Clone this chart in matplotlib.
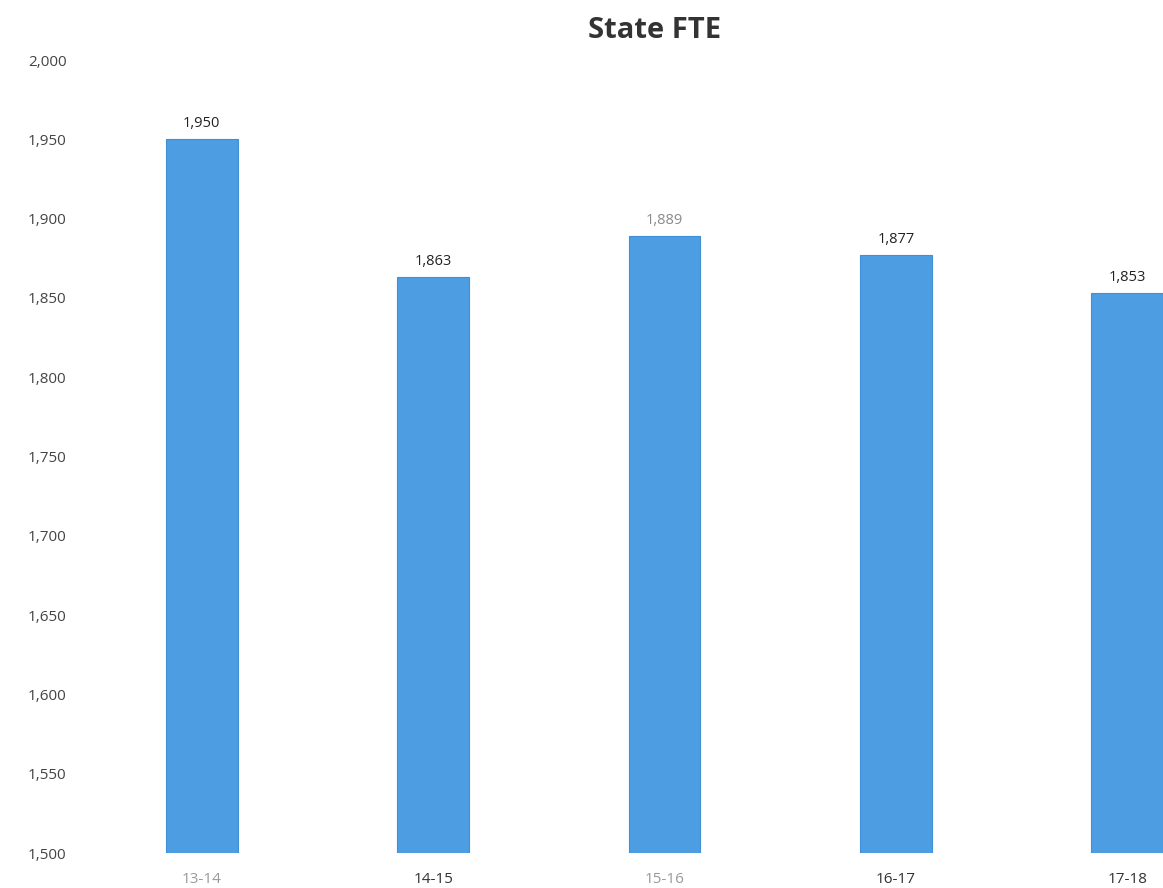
import matplotlib
matplotlib.use("Agg")
import matplotlib.pyplot as plt

categories = ["13-14", "14-15", "15-16", "16-17", "17-18"]
values = [1950, 1863, 1889, 1877, 1853]
yticks = [1500, 1550, 1600, 1650, 1700, 1750, 1800, 1850, 1900, 1950, 2000]
xlabel_colors = ["#9a9a9a", "#333333", "#9a9a9a", "#333333", "#333333"]
value_colors = ["#222222", "#222222", "#8a8a8a", "#222222", "#222222"]

plt.rcParams['font.family'] = ['Open Sans', 'DejaVu Sans']

W, H = 1163, 888
fig = plt.figure(figsize=(W / 100, H / 100), dpi=100)
left, right = 86, 1243
bottom, top = 853, 60
ax = fig.add_axes([left / W, 1 - bottom / H, (right - left) / W, (bottom - top) / H])

x = list(range(len(categories)))
ax.bar(x, [v - 1500 for v in values], bottom=1500, width=0.31,
       color="#4d9de2", edgecolor="#3f8fd6", linewidth=0.8)
ax.set_xlim(-0.5, 4.5)
ax.set_ylim(1500, 2000)
ax.set_yticks(yticks)
ax.set_yticklabels([f"{t:,}" for t in yticks], fontsize=11, color="#444444")
ax.set_xticks(x)
ax.set_xticklabels(categories, fontsize=11)
for lbl, c in zip(ax.get_xticklabels(), xlabel_colors):
    lbl.set_color(c)
ax.tick_params(axis='both', length=0)
ax.tick_params(axis='y', pad=14)
ax.tick_params(axis='x', pad=14)
for s in ax.spines.values():
    s.set_visible(False)

for xi, v, c in zip(x, values, value_colors):
    ax.annotate(f"{v:,}", (xi, v), xytext=(0, 6), textcoords="offset points",
                ha="center", va="bottom", fontsize=10.5, color=c)

fig.text(655 / W, 1 - 31 / H, "State FTE", ha="center", va="center",
         fontsize=21, fontweight="bold", color="#333333")

fig.savefig("out.png", dpi=100)
